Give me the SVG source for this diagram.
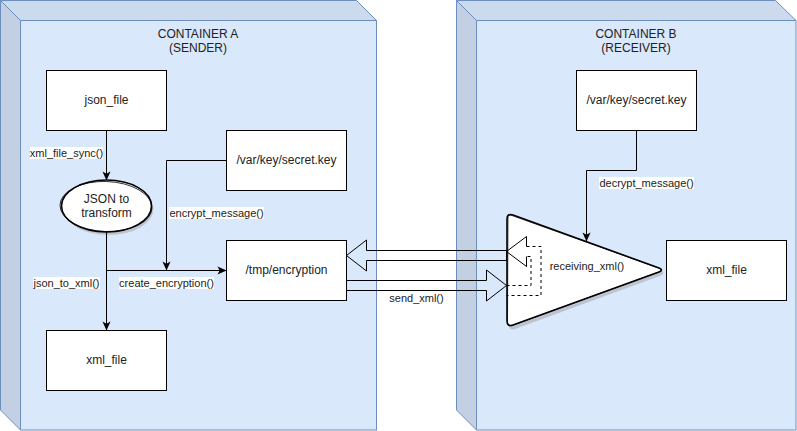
<svg xmlns="http://www.w3.org/2000/svg" width="797" height="431" viewBox="0 0 797 431">
<defs>
<style>
.front{fill:#dae8fc;stroke:#6c8ebf;stroke-width:1}
.top{fill:#ccdaee;stroke:#6c8ebf;stroke-width:1}
.side{fill:#c3cfe2;stroke:#6c8ebf;stroke-width:1}
.box{fill:#ffffff;stroke:#000000;stroke-width:1}
.t{font-family:"Liberation Sans",Arial,Helvetica,sans-serif;font-size:12px;fill:#222222;text-anchor:middle}
.l{font-family:"Liberation Sans",Arial,Helvetica,sans-serif;font-size:11px;fill:#222222;text-anchor:middle}
.edge{fill:none;stroke:#000000;stroke-width:1}
.lbg{fill:#ffffff}
.flex{fill:none;stroke:#000000;stroke-width:1}
.dash{fill:none;stroke:#000000;stroke-width:1;stroke-dasharray:3 3}
.shadow{fill:#9a9a9a;opacity:0.45}
</style>
<marker id="arr" viewBox="0 0 10 10" refX="9.5" refY="5" markerWidth="9" markerHeight="9" markerUnits="userSpaceOnUse" orient="auto">
<path d="M0,0.5 L10,5 L0,9.5 L2.5,5 Z" fill="#000000"/>
</marker>
</defs>

<g id="containerA">
<polygon class="side" points="0.5,0.5 20.5,20.5 20.5,430 0.5,410"/>
<polygon class="top" points="0.5,0.5 356.5,0.5 376.5,20.5 20.5,20.5"/>
<rect class="front" x="20.5" y="20.5" width="356" height="409.5"/>
<text class="t" x="198" y="38">CONTAINER A</text>
<text class="t" x="198" y="52">(SENDER)</text>
</g>

<g id="containerB">
<polygon class="side" points="456.5,0.5 476.5,20.5 476.5,430 456.5,410"/>
<polygon class="top" points="456.5,0.5 775.5,0.5 796,20.5 476.5,20.5"/>
<rect class="front" x="476.5" y="20.5" width="319.5" height="409.5"/>
<text class="t" x="636" y="38">CONTAINER B</text>
<text class="t" x="636" y="52">(RECEIVER)</text>
</g>

<g id="json_file">
<rect class="box" x="46.5" y="70.5" width="120" height="60"/>
<text class="t" x="106.5" y="104">json_file</text>
</g>

<g id="json_to_transform">
<ellipse class="shadow" cx="108.5" cy="209" rx="45" ry="26"/>
<ellipse cx="106.5" cy="206" rx="45" ry="26" fill="#ffffff" stroke="#000000" stroke-width="1.6"/>
<ellipse cx="106" cy="206.5" rx="46" ry="25" fill="none" stroke="#000000" stroke-width="0.8" transform="rotate(2 106 206)"/>
<text class="t" x="106.5" y="203">JSON to</text>
<text class="t" x="106.5" y="217">transform</text>
</g>

<g id="secret_key_a">
<rect class="box" x="226.5" y="130.5" width="120" height="60"/>
<text class="t" x="286.5" y="164">/var/key/secret.key</text>
</g>

<g id="tmp_encryption">
<rect class="box" x="226.5" y="240.5" width="120" height="60"/>
<text class="t" x="286.5" y="274">/tmp/encryption</text>
</g>

<g id="xml_file_a">
<rect class="box" x="46.5" y="330.5" width="120" height="60"/>
<text class="t" x="106.5" y="364">xml_file</text>
</g>

<g id="secret_key_b">
<rect class="box" x="576.5" y="70.5" width="120" height="60"/>
<text class="t" x="636.5" y="104">/var/key/secret.key</text>
</g>

<g id="receiving_xml">
<path class="shadow" d="M509,222 Q509,215 515,217 L661,270.5 Q666,273 661,275.5 L515,329 Q509,331 509,325 Z"/>
<path d="M507,219 Q507,213 513,215 L659,268 Q664,270 659,272 L513,325 Q507,327 507,321 Z" fill="#ffffff" stroke="#000000" stroke-width="1.6"/>
<path d="M508,218 Q507.5,214 512,215.5 L660,268.5 Q663,270.5 660,271.5 L512,325.5 Q508,326.5 507.5,322 Z" fill="none" stroke="#000000" stroke-width="0.7"/>
<text class="l" x="587" y="270">receiving_xml()</text>
</g>

<g id="xml_file_b">
<rect class="box" x="666.5" y="240.5" width="120" height="60"/>
<text class="t" x="726.5" y="274">xml_file</text>
</g>

<g id="connectors">
<path class="edge" d="M106.5,130.5 V180" marker-end="url(#arr)"/>
<path class="edge" d="M226.5,160.5 H166.5 V270" marker-end="url(#arr)"/>
<path class="edge" d="M106.5,232 V330" marker-end="url(#arr)"/>
<path class="edge" d="M106.5,270.5 H226" marker-end="url(#arr)"/>
<path class="edge" d="M636.5,130.5 V170.5 H586.5 V241" marker-end="url(#arr)"/>
<polygon class="flex" points="506.5,250.5 366.5,250.5 366.5,240 346.5,255.5 366.5,271 366.5,260.5 506.5,260.5"/>
<polygon class="flex" points="346.5,280.5 486.5,280.5 486.5,270 506.5,285.5 486.5,301 486.5,290.5 346.5,290.5"/>
<path class="flex" d="M526.5,246.5 V236.5 L506.5,251.5 L526.5,266.5 V256.5"/>
<path class="dash" d="M526.5,246.5 H541 V295.5 H506.5 M506.5,285.5 H531 V256.5 H526.5"/>
<rect class="lbg" x="30" y="147" width="73" height="12"/>
<text class="l" x="66.5" y="157">xml_file_sync()</text>
<rect class="lbg" x="169" y="207" width="95" height="12"/>
<text class="l" x="216.5" y="217">encrypt_message()</text>
<rect class="lbg" x="33" y="277" width="67" height="12"/>
<text class="l" x="66.5" y="287">json_to_xml()</text>
<rect class="lbg" x="119" y="277" width="95" height="12"/>
<text class="l" x="166.5" y="287">create_encryption()</text>
<rect class="lbg" x="599" y="177" width="95" height="12"/>
<text class="l" x="646.5" y="187">decrypt_message()</text>
<text class="l" x="416.5" y="302">send_xml()</text>
</g>
</svg>
